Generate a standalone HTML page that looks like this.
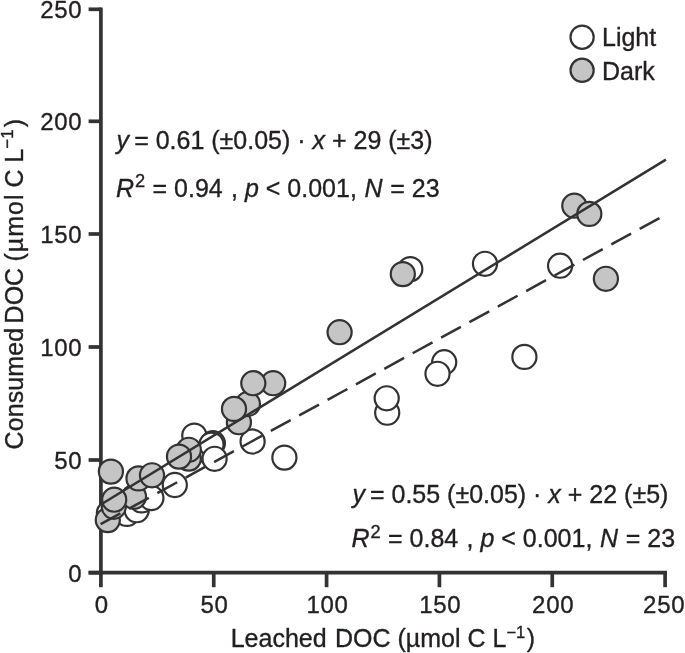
<!DOCTYPE html>
<html lang="en">
<head>
<meta charset="utf-8">
<title>Consumed DOC vs Leached DOC</title>
<style>
html,body{margin:0;padding:0;background:#ffffff;}
body{width:685px;height:653px;overflow:hidden;}
svg{display:block;}
text{font-family:"Liberation Sans",Arial,Helvetica,sans-serif;fill:#231f20;stroke:#231f20;stroke-width:0.35px;}
.tk text{font-size:24px;letter-spacing:0.7px;}
.lab{font-size:25px;}
.eq{font-size:25px;}
.i{font-style:italic;}
</style>
</head>
<body>
<svg width="685" height="653" viewBox="0 0 685 653">
<rect x="0" y="0" width="685" height="653" fill="#ffffff"/>
<!-- axes -->
<g stroke="#333333" stroke-width="3.7" fill="none">
<line x1="100.9" y1="7.45" x2="100.9" y2="574.65"/>
<line x1="88.6" y1="572.7" x2="666.95" y2="572.7"/>
<line x1="88.6" y1="572.70" x2="101" y2="572.70"/>
<line x1="88.6" y1="460.00" x2="101" y2="460.00"/>
<line x1="88.6" y1="347.00" x2="101" y2="347.00"/>
<line x1="88.6" y1="234.00" x2="101" y2="234.00"/>
<line x1="88.6" y1="121.30" x2="101" y2="121.30"/>
<line x1="88.6" y1="9.30" x2="101" y2="9.30"/>
<line x1="100.90" y1="572.7" x2="100.90" y2="587.2"/>
<line x1="213.74" y1="572.7" x2="213.74" y2="587.2"/>
<line x1="326.58" y1="572.7" x2="326.58" y2="587.2"/>
<line x1="439.42" y1="572.7" x2="439.42" y2="587.2"/>
<line x1="552.26" y1="572.7" x2="552.26" y2="587.2"/>
<line x1="665.10" y1="572.7" x2="665.10" y2="587.2"/>
</g>
<!-- data points -->
<g stroke="#333333" stroke-width="2.2">
<circle cx="108.9" cy="513.0" r="12.05" fill="#ffffff"/>
<circle cx="126.9" cy="513.9" r="12.05" fill="#ffffff"/>
<circle cx="136.7" cy="510.2" r="12.05" fill="#ffffff"/>
<circle cx="141.6" cy="500.4" r="12.05" fill="#ffffff"/>
<circle cx="151.4" cy="498.0" r="12.05" fill="#ffffff"/>
<circle cx="174.8" cy="485.0" r="12.05" fill="#ffffff"/>
<circle cx="209.5" cy="452.5" r="12.05" fill="#ffffff"/>
<circle cx="194.3" cy="435.6" r="12.05" fill="#ffffff"/>
<circle cx="212.9" cy="443.2" r="12.05" fill="#ffffff"/>
<circle cx="211.5" cy="444.6" r="12.05" fill="#ffffff"/>
<circle cx="214.6" cy="458.8" r="12.05" fill="#ffffff"/>
<circle cx="252.6" cy="441.5" r="12.05" fill="#ffffff"/>
<circle cx="284.4" cy="457.6" r="12.05" fill="#ffffff"/>
<circle cx="387.2" cy="412.7" r="12.05" fill="#ffffff"/>
<circle cx="386.7" cy="398.3" r="12.05" fill="#ffffff"/>
<circle cx="444.2" cy="362.2" r="12.05" fill="#ffffff"/>
<circle cx="437.5" cy="373.8" r="12.05" fill="#ffffff"/>
<circle cx="410.3" cy="269.1" r="12.05" fill="#ffffff"/>
<circle cx="485.0" cy="263.8" r="12.05" fill="#ffffff"/>
<circle cx="560.1" cy="265.7" r="12.05" fill="#ffffff"/>
<circle cx="524.4" cy="356.9" r="12.05" fill="#ffffff"/>
<circle cx="107.8" cy="520.1" r="12.05" fill="#c5c5c5"/>
<circle cx="113.8" cy="506.8" r="12.05" fill="#c5c5c5"/>
<circle cx="134.0" cy="496.8" r="12.05" fill="#c5c5c5"/>
<circle cx="114.2" cy="499.7" r="12.05" fill="#c5c5c5"/>
<circle cx="110.9" cy="471.6" r="12.05" fill="#c5c5c5"/>
<circle cx="138.5" cy="478.4" r="12.05" fill="#c5c5c5"/>
<circle cx="152.0" cy="475.3" r="12.05" fill="#c5c5c5"/>
<circle cx="188.8" cy="458.6" r="12.05" fill="#c5c5c5"/>
<circle cx="188.8" cy="449.8" r="12.05" fill="#c5c5c5"/>
<circle cx="179.0" cy="456.6" r="12.05" fill="#c5c5c5"/>
<circle cx="238.9" cy="422.2" r="12.05" fill="#c5c5c5"/>
<circle cx="247.9" cy="404.0" r="12.05" fill="#c5c5c5"/>
<circle cx="234.0" cy="408.9" r="12.05" fill="#c5c5c5"/>
<circle cx="273.2" cy="383.2" r="12.05" fill="#c5c5c5"/>
<circle cx="253.3" cy="383.2" r="12.05" fill="#c5c5c5"/>
<circle cx="339.6" cy="332.2" r="12.05" fill="#c5c5c5"/>
<circle cx="402.8" cy="274.1" r="12.05" fill="#c5c5c5"/>
<circle cx="574.3" cy="205.7" r="12.05" fill="#c5c5c5"/>
<circle cx="589.3" cy="213.9" r="12.05" fill="#c5c5c5"/>
<circle cx="605.9" cy="278.8" r="12.05" fill="#c5c5c5"/>
</g>
<!-- regression lines -->
<g stroke="#333333" stroke-width="2.5" fill="none">
<line x1="100.9" y1="504.5" x2="665.9" y2="159.6"/>
<line x1="100.6" y1="524.2" x2="660.3" y2="217.6" stroke-dasharray="22.6 9.75"/>
</g>
<g class="tk">
<text x="82.3" y="581.5" text-anchor="end">0</text>
<text x="82.3" y="468.8" text-anchor="end">50</text>
<text x="82.3" y="355.8" text-anchor="end">100</text>
<text x="82.3" y="242.8" text-anchor="end">150</text>
<text x="82.3" y="130.1" text-anchor="end">200</text>
<text x="82.3" y="18.1" text-anchor="end">250</text>
<text x="101.8" y="612.9" text-anchor="middle">0</text>
<text x="214.6" y="612.9" text-anchor="middle">50</text>
<text x="327.5" y="612.9" text-anchor="middle">100</text>
<text x="440.3" y="612.9" text-anchor="middle">150</text>
<text x="553.2" y="612.9" text-anchor="middle">200</text>
<text x="664.2" y="612.9" text-anchor="middle">250</text>
</g>
<!-- axis titles -->
<text class="lab" x="230.7" y="646.8">Leached <tspan x="335">DOC (µmol C L</tspan><tspan font-size="16.5px" dy="-9">−1</tspan><tspan dy="9" dx="1.5">)</tspan></text>
<text class="lab" transform="translate(22.9,0) rotate(-90)"><tspan x="-449.5" letter-spacing="0.12">Consumed</tspan> <tspan x="-323.4">DOC</tspan> <tspan x="-261.5" letter-spacing="1">(µmol</tspan> <tspan x="-187.6">C</tspan> <tspan x="-162.4">L</tspan><tspan x="-148.8" font-size="17px" dy="-9.5">−1</tspan><tspan x="-127.2" dy="9.5">)</tspan></text>
<!-- legend -->
<g stroke="#333333" stroke-width="2.2">
<circle cx="582.1" cy="37.2" r="11.6" fill="#ffffff"/>
<circle cx="582.1" cy="70.3" r="11.6" fill="#c5c5c5"/>
</g>
<text class="lab" x="602" y="46.2">Light</text>
<text class="lab" x="602" y="80.4">Dark</text>
<!-- equations -->
<text class="eq" x="116.5" y="149"><tspan class="i">y</tspan><tspan dx="-1.8"> = 0.61</tspan> (±0.05) · <tspan class="i">x</tspan> + 29 (±3)</text>
<text class="eq" x="116" y="196.7"><tspan class="i">R</tspan><tspan font-size="18.3px" dy="-9.4" dx="1">2</tspan><tspan dy="9.4" dx="0.4"> = 0.94</tspan><tspan dx="1.3"> , </tspan><tspan class="i">p</tspan> &lt; 0.001, <tspan class="i" dx="0.8">N</tspan><tspan dx="0.6"> = 23</tspan></text>
<text class="eq" x="352.5" y="502.9"><tspan class="i">y</tspan><tspan dx="-2"> = 0.55</tspan> (±0.05) · <tspan class="i">x</tspan> + 22 (±5)</text>
<text class="eq" x="351.5" y="547.4"><tspan class="i">R</tspan><tspan font-size="18.3px" dy="-9.4" dx="1">2</tspan><tspan dy="9.4" dx="0.4"> = 0.84</tspan><tspan dx="1.3"> , </tspan><tspan class="i">p</tspan> &lt; 0.001, <tspan class="i" dx="0.8">N</tspan><tspan dx="0.6"> = 23</tspan></text>
</svg>
</body>
</html>
